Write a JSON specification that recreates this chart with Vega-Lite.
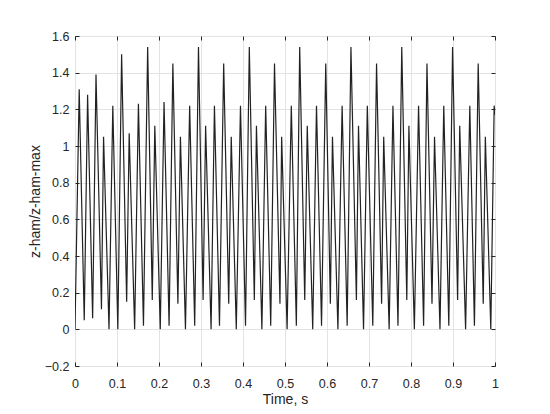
{
  "$schema": "https://vega.github.io/schema/vega-lite/v6.json",
  "width": 420,
  "height": 330,
  "autosize": {"type": "none"},
  "padding": {"left": 75, "top": 36, "right": 55, "bottom": 48},
  "background": "white",
  "config": {
    "view": {"stroke": "#262626", "strokeWidth": 1},
    "axis": {
      "labelFont": "Liberation Sans",
      "titleFont": "Liberation Sans",
      "labelFontSize": 12.5,
      "titleFontSize": 14,
      "titleFontWeight": "normal",
      "labelColor": "#262626",
      "titleColor": "#262626",
      "domain": false,
      "tickColor": "#262626",
      "tickSize": -4,
      "gridColor": "#e3e3e3",
      "gridWidth": 1
    }
  },
  "data": {
    "values": [
      {"t": 0.000, "v": 0.00}, {"t": 0.010, "v": 1.31}, {"t": 0.022, "v": 0.05}, {"t": 0.030, "v": 1.28},
      {"t": 0.042, "v": 0.06}, {"t": 0.050, "v": 1.39}, {"t": 0.063, "v": 0.11}, {"t": 0.068, "v": 1.05},
      {"t": 0.081, "v": 0.00}, {"t": 0.090, "v": 1.22}, {"t": 0.102, "v": 0.00}, {"t": 0.111, "v": 1.50},
      {"t": 0.123, "v": 0.15}, {"t": 0.129, "v": 1.07}, {"t": 0.142, "v": 0.00}, {"t": 0.151, "v": 1.23},
      {"t": 0.163, "v": 0.02}, {"t": 0.173, "v": 1.54}, {"t": 0.184, "v": 0.16}, {"t": 0.190, "v": 1.11},
      {"t": 0.203, "v": 0.00}, {"t": 0.212, "v": 1.24}, {"t": 0.224, "v": 0.02}, {"t": 0.233, "v": 1.45},
      {"t": 0.245, "v": 0.14}, {"t": 0.251, "v": 1.05}, {"t": 0.263, "v": 0.00}, {"t": 0.273, "v": 1.22},
      {"t": 0.285, "v": 0.02}, {"t": 0.294, "v": 1.54}, {"t": 0.305, "v": 0.16}, {"t": 0.311, "v": 1.11},
      {"t": 0.324, "v": 0.00}, {"t": 0.332, "v": 1.22}, {"t": 0.344, "v": 0.02}, {"t": 0.354, "v": 1.45},
      {"t": 0.366, "v": 0.14}, {"t": 0.372, "v": 1.05}, {"t": 0.384, "v": 0.00}, {"t": 0.394, "v": 1.22},
      {"t": 0.406, "v": 0.02}, {"t": 0.415, "v": 1.54}, {"t": 0.427, "v": 0.16}, {"t": 0.432, "v": 1.11},
      {"t": 0.445, "v": 0.00}, {"t": 0.454, "v": 1.22}, {"t": 0.466, "v": 0.02}, {"t": 0.475, "v": 1.45},
      {"t": 0.488, "v": 0.14}, {"t": 0.492, "v": 1.05}, {"t": 0.505, "v": 0.00}, {"t": 0.515, "v": 1.22},
      {"t": 0.527, "v": 0.02}, {"t": 0.535, "v": 1.54}, {"t": 0.547, "v": 0.16}, {"t": 0.553, "v": 1.11},
      {"t": 0.566, "v": 0.00}, {"t": 0.575, "v": 1.22}, {"t": 0.587, "v": 0.02}, {"t": 0.597, "v": 1.45},
      {"t": 0.608, "v": 0.14}, {"t": 0.613, "v": 1.05}, {"t": 0.626, "v": 0.00}, {"t": 0.636, "v": 1.22},
      {"t": 0.648, "v": 0.02}, {"t": 0.657, "v": 1.54}, {"t": 0.670, "v": 0.16}, {"t": 0.675, "v": 1.11},
      {"t": 0.687, "v": 0.00}, {"t": 0.696, "v": 1.22}, {"t": 0.709, "v": 0.02}, {"t": 0.718, "v": 1.45},
      {"t": 0.730, "v": 0.14}, {"t": 0.735, "v": 1.05}, {"t": 0.748, "v": 0.00}, {"t": 0.757, "v": 1.22},
      {"t": 0.769, "v": 0.02}, {"t": 0.778, "v": 1.54}, {"t": 0.790, "v": 0.16}, {"t": 0.795, "v": 1.11},
      {"t": 0.808, "v": 0.00}, {"t": 0.818, "v": 1.22}, {"t": 0.830, "v": 0.02}, {"t": 0.838, "v": 1.45},
      {"t": 0.850, "v": 0.14}, {"t": 0.856, "v": 1.05}, {"t": 0.869, "v": 0.00}, {"t": 0.878, "v": 1.22},
      {"t": 0.890, "v": 0.02}, {"t": 0.899, "v": 1.54}, {"t": 0.911, "v": 0.16}, {"t": 0.916, "v": 1.11},
      {"t": 0.930, "v": 0.00}, {"t": 0.940, "v": 1.22}, {"t": 0.951, "v": 0.02}, {"t": 0.960, "v": 1.45},
      {"t": 0.972, "v": 0.14}, {"t": 0.977, "v": 1.05}, {"t": 0.990, "v": 0.00}, {"t": 0.998, "v": 1.22},
      {"t": 1.000, "v": 1.17}
    ]
  },
  "layer": [
    {
      "mark": {"type": "line", "color": "#222222", "strokeWidth": 1.2, "clip": true},
      "encoding": {
        "x": {
          "field": "t", "type": "quantitative",
          "scale": {"domain": [0, 1], "nice": false, "zero": false},
          "axis": {
            "orient": "bottom", "title": "Time, s", "format": "~g",
            "values": [0, 0.1, 0.2, 0.3, 0.4, 0.5, 0.6, 0.7, 0.8, 0.9, 1],
            "labelPadding": 15, "titlePadding": 3, "grid": true, "labelFlush": false
          }
        },
        "y": {
          "field": "v", "type": "quantitative",
          "scale": {"domain": [-0.2, 1.6], "nice": false, "zero": false},
          "axis": {
            "orient": "left", "title": "z-ham/z-ham-max", "format": "~g",
            "values": [-0.2, 0, 0.2, 0.4, 0.6, 0.8, 1, 1.2, 1.4, 1.6],
            "labelPadding": 10, "titlePadding": 2, "grid": true, "labelFlush": false
          }
        }
      }
    },
    {
      "mark": {"type": "line", "opacity": 0},
      "encoding": {
        "x": {
          "field": "t", "type": "quantitative",
          "scale": {"domain": [0, 1], "nice": false, "zero": false},
          "axis": {"orient": "top", "title": null, "labels": false, "grid": false,
            "values": [0, 0.1, 0.2, 0.3, 0.4, 0.5, 0.6, 0.7, 0.8, 0.9, 1]}
        },
        "y": {
          "field": "v", "type": "quantitative",
          "scale": {"domain": [-0.2, 1.6], "nice": false, "zero": false},
          "axis": {"orient": "right", "title": null, "labels": false, "grid": false,
            "values": [-0.2, 0, 0.2, 0.4, 0.6, 0.8, 1, 1.2, 1.4, 1.6]}
        }
      }
    }
  ],
  "resolve": {"axis": {"x": "independent", "y": "independent"}}
}
